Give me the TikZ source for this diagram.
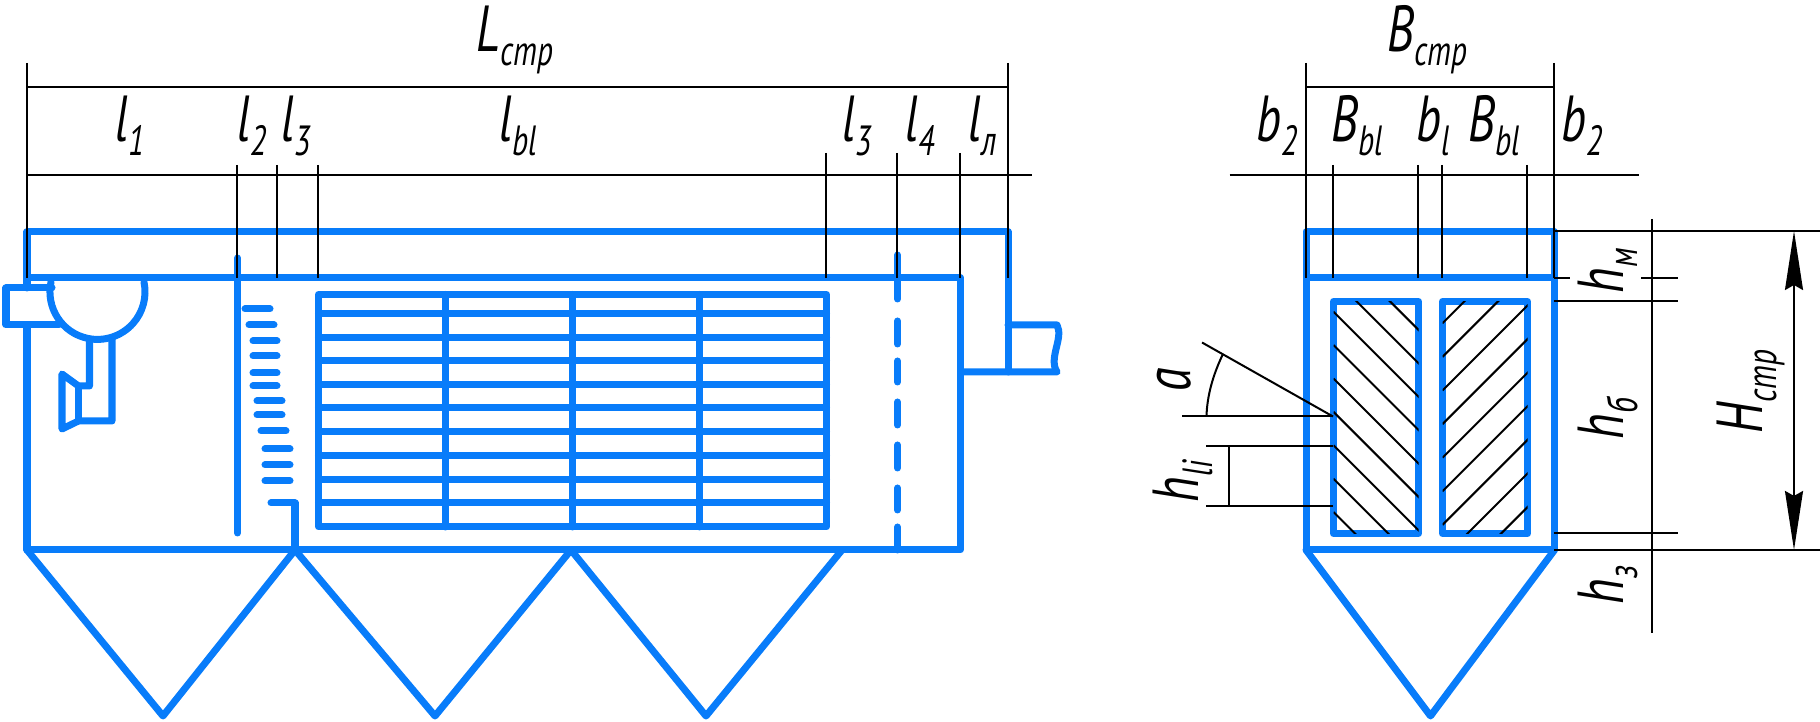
\documentclass[tikz,border=0pt]{standalone}
\usepackage{fontspec}
\newfontfamily\gostfont[FakeStretch=0.74]{PT Sans}
\usepackage{tikz}
\usetikzlibrary{arrows.meta}
\definecolor{FrameColor}{RGB}{8,124,250}
\tikzstyle{frameline} = [FrameColor, line width=0.07cm, line cap=round, line join=round]
\tikzstyle{dimline} = [black, line width=0.02cm]
\tikzstyle{dimlabel} = [inner sep=0pt, anchor=base west]
\tikzstyle{sidelabel} = [inner sep=0pt, anchor=base west, rotate=90]
\newcommand{\dimtext}[2]{{\gostfont\itshape\fontsize{18.5}{18.5}\selectfont #1\raisebox{-0.14cm}{\fontsize{12}{12}\selectfont #2}}}

\begin{document}
\begin{tikzpicture}[x=0.01cm, y=-0.01cm]
    \useasboundingbox (0,0) rectangle (1820,722);

    \draw[frameline] (27,550) -- (27,325);
    \draw[frameline] (27,288) -- (27,232) -- (1008,232) -- (1008,372);
    \draw[frameline] (27,278) -- (960.5,278) -- (960.5,550) -- (27,550);
    \draw[frameline] (27,550) -- (163,716) -- (295,550) -- (435,716) -- (571,550) -- (706,716) -- (842,550);
    \draw[frameline] (960.5,372) -- (1057,372) .. controls (1048,358) and (1064,338) .. (1057,325) -- (1008,325);

    \draw[frameline] (52,288) -- (6,288) -- (6,325) -- (59,325);
    \draw[frameline] (51,282) arc[start angle=168, end angle=372, radius=0.475cm];
    \draw[frameline] (89.5,339) -- (89.5,386) -- (78.5,386) -- (62,374) -- (62,429) -- (78.5,421) -- (112,421) -- (112,339);
    \draw[frameline] (78.5,386) -- (78.5,421);

    \draw[frameline] (237.5,258) -- (237.5,533);
    \foreach \xa/\xb/\ya in {245/270/309, 249/274/325, 253/277/341, 253/277/356, 253/277/373, 253/277/386, 257/282/401, 257/282/415, 261/286/431, 265/290/449, 265/290/465, 265/290/481}
        \draw[frameline] (\xa,\ya) -- (\xb,\ya);
    \draw[frameline] (271,503) -- (295,503) -- (295,550);

    \draw[frameline] (318.5,294.5) rectangle (826.5,527);
    \foreach \ya in {313.5, 337.5, 361, 384.5, 408, 431.5, 455.5, 479.5, 503}
        \draw[frameline] (318.5,\ya) -- (826.5,\ya);
    \foreach \xa in {445, 572.5, 699.5}
        \draw[frameline] (\xa,294.5) -- (\xa,527);

    \foreach \ya/\yb in {255/299, 321/344, 361/382, 402/425, 445/468, 488/510, 527/550}
        \draw[frameline] (897.5,\ya) -- (897.5,\yb);

    \draw[dimline] (27,63) -- (27,278);
    \draw[dimline] (1008,63) -- (1008,278);
    \draw[dimline] (27,87) -- (1008,87);
    \draw[dimline] (27,175.5) -- (1032,175.5);
    \foreach \xa in {237, 277, 318}
        \draw[dimline] (\xa,165) -- (\xa,278);
    \foreach \xa in {826, 897, 960}
        \draw[dimline] (\xa,153) -- (\xa,278);

    \node[dimlabel] (Lstr) at (476,52) {\dimtext{L}{стр}};
    \node[dimlabel] (lone) at (115,142) {\dimtext{l}{1}};
    \node[dimlabel] (ltwo) at (237,142) {\dimtext{l}{2}};
    \node[dimlabel] (lthreea) at (281,142) {\dimtext{l}{3}};
    \node[dimlabel] (lbl) at (499,142) {\dimtext{l}{bl}};
    \node[dimlabel] (lthreeb) at (842,142) {\dimtext{l}{3}};
    \node[dimlabel] (lfour) at (905,142) {\dimtext{l}{4}};
    \node[dimlabel] (lend) at (968,142) {\dimtext{l}{л}};

    \draw[frameline] (1306,278) rectangle (1554.5,232);
    \draw[frameline] (1306,278) -- (1306,550) -- (1554.5,550) -- (1554.5,278);
    \draw[frameline] (1306,550) -- (1430.5,716) -- (1554.5,550);
    \draw[frameline] (1333.5,301.5) rectangle (1418.5,533.5);
    \draw[frameline] (1442.5,301.5) rectangle (1527.5,533.5);

    \begin{scope}
        \clip (1333.5,301.5) rectangle (1418.5,533.5);
        \foreach \k in {-2,...,6}
            \draw[dimline] (1333.5,{311.7+33.4*\k}) -- ++(300,300);
    \end{scope}
    \begin{scope}
        \clip (1442.5,301.5) rectangle (1527.5,533.5);
        \foreach \k in {0,...,8}
            \draw[dimline] (1442.5,{323.3+33.6*\k}) -- ++(300,-300);
    \end{scope}

    \draw[dimline] (1306,63) -- (1306,278);
    \draw[dimline] (1554,63) -- (1554,278);
    \draw[dimline] (1306,87) -- (1554,87);
    \draw[dimline] (1229.5,175.5) -- (1639,175.5);
    \foreach \xa in {1333, 1418, 1442, 1527}
        \draw[dimline] (\xa,165) -- (\xa,278);

    \draw[dimline] (1554,231) -- (1820,231);
    \draw[dimline] (1554,550) -- (1820,550);
    \draw[dimline] (1554,278) -- (1570,278);
    \draw[dimline] (1641,278) -- (1678,278);
    \draw[dimline] (1554,301) -- (1678,301);
    \draw[dimline] (1554,533) -- (1678,533);
    \draw[dimline] (1652,219) -- (1652,633);
    \draw[dimline, {Stealth[length=0.59cm, width=0.18cm, inset=0.05cm]}-{Stealth[length=0.59cm, width=0.18cm, inset=0.05cm]}] (1794,231) -- (1794,550);

    \draw[dimline] (1182,416.5) -- (1333,416.5);
    \draw[dimline] (1333,416.5) -- (1202,342.5);
    \draw[dimline] (1206.5,416.5) .. controls (1207,396) and (1213,375) .. (1222.5,355);
    \draw[dimline] (1206,446) -- (1333,446);
    \draw[dimline] (1206,506.5) -- (1333,506.5);
    \draw[dimline] (1229,446) -- (1229,506.5);

    \node[dimlabel] (Bstr) at (1387,52) {\dimtext{B}{стр}};
    \node[dimlabel] (btwoa) at (1256,142) {\dimtext{b}{2}};
    \node[dimlabel] (Bbla) at (1331,142) {\dimtext{B}{bl}};
    \node[dimlabel] (bl) at (1416,142) {\dimtext{b}{l}};
    \node[dimlabel] (Bblb) at (1468,142) {\dimtext{B}{bl}};
    \node[dimlabel] (btwob) at (1561,142) {\dimtext{b}{2}};

    \node[sidelabel] (hm) at (1623,294) {\dimtext{h}{м}};
    \node[sidelabel] (hb) at (1623,440) {\dimtext{h}{б}};
    \node[sidelabel] (hz) at (1623,605) {\dimtext{h}{з}};
    \node[sidelabel] (Hstr) at (1762,434) {\dimtext{H}{стр}};
    \node[sidelabel] (hli) at (1198,503) {\dimtext{h}{li}};
    \node[sidelabel] (angle) at (1190,392) {\dimtext{a}{}};
\end{tikzpicture}
\end{document}
